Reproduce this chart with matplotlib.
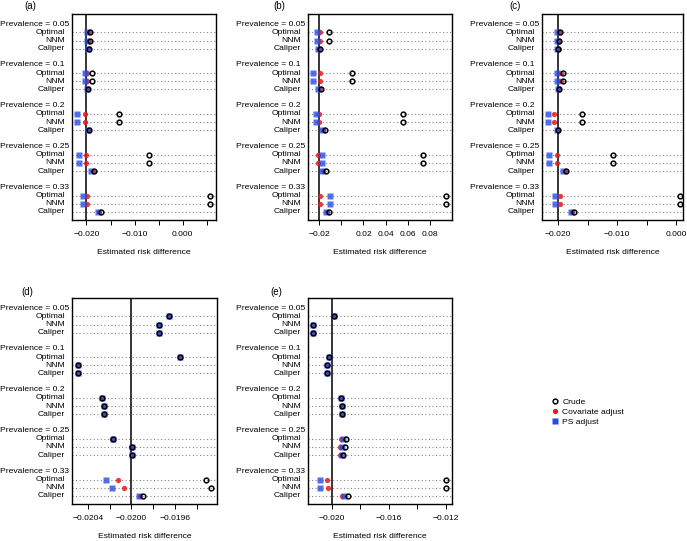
import matplotlib
matplotlib.use("Agg")
import matplotlib.pyplot as plt
from matplotlib import transforms
from matplotlib.lines import Line2D

plt.rcParams['font.family'] = ['Liberation Sans', 'DejaVu Sans']
plt.rcParams['font.size'] = 6.1

# rows: prevalence groups x matching methods
prevalences = ["0.05", "0.1", "0.2", "0.25", "0.33"]
methods = ["Optimal", "NNM", "Caliper"]

# panel (a)
crude_a = [-0.0193, -0.0193, -0.0195, -0.0188, -0.0188, -0.0197, -0.0132, -0.0132, -0.0195,
           -0.0070, -0.0070, -0.0184, 0.0057, 0.0057, -0.0170]
cov_a = [-0.0194, -0.0194, -0.0196, -0.0199, -0.0199, -0.0198, -0.0204, -0.0204, -0.0196,
         -0.0200, -0.0200, -0.0187, -0.0199, -0.0199, -0.0174]
ps_a = [-0.0199, -0.0199, -0.0196, -0.0203, -0.0203, -0.0198, -0.0219, -0.0219, -0.0197,
        -0.0216, -0.0216, -0.0190, -0.0208, -0.0208, -0.0177]

# panel (b)
crude_b = [-0.0116, -0.0116, -0.0194, 0.0100, 0.0100, -0.0185, 0.0560, 0.0560, -0.0152,
           0.0737, 0.0737, -0.0137, 0.0947, 0.0947, -0.0113]
cov_b = [-0.0194, -0.0194, -0.0200, -0.0197, -0.0197, -0.0195, -0.0200, -0.0200, -0.0170,
         -0.0212, -0.0212, -0.0165, -0.0197, -0.0197, -0.0128]
ps_b = [-0.0221, -0.0221, -0.0208, -0.0254, -0.0254, -0.0209, -0.0227, -0.0227, -0.0179,
        -0.0176, -0.0178, -0.0176, -0.0104, -0.0104, -0.0140]

# panel (c)
crude_c = [-0.0197, -0.0199, -0.0200, -0.0192, -0.0192, -0.0199, -0.0159, -0.0159, -0.0200,
           -0.0107, -0.0107, -0.0187, 0.0007, 0.0007, -0.0173]
cov_c = [-0.0197, -0.0199, -0.0199, -0.0196, -0.0196, -0.0199, -0.0207, -0.0207, -0.0200,
         -0.0202, -0.0202, -0.0189, -0.0197, -0.0197, -0.0176]
ps_c = [-0.0202, -0.0203, -0.0202, -0.0202, -0.0202, -0.0200, -0.0218, -0.0218, -0.0203,
        -0.0215, -0.0215, -0.0192, -0.0206, -0.0206, -0.0179]

# panel (d)
crude_d = [-0.019652, -0.019751, -0.019751, -0.019557, -0.020495, -0.020495, -0.020274, -0.020249,
           -0.020249, -0.020172, -0.019997, -0.019991, -0.019314, -0.019268, -0.019892]
cov_d = [-0.019652, -0.019751, -0.019751, -0.019557, -0.020495, -0.020495, -0.020274, -0.020249,
         -0.020249, -0.020175, -0.020000, -0.019995, -0.020123, -0.020065, -0.019920]
ps_d = [-0.019652, -0.019751, -0.019751, -0.019557, -0.020495, -0.020495, -0.020274, -0.020249,
        -0.020249, -0.020172, -0.019997, -0.019991, -0.020231, -0.020178, -0.019929]

# panel (e)
crude_e = [-0.01988, -0.02133, -0.02133, -0.02023, -0.02033, -0.02033, -0.01937, -0.01927,
           -0.01927, -0.01899, -0.01909, -0.01923, -0.01198, -0.01196, -0.01888]
cov_e = [-0.01988, -0.02133, -0.02133, -0.02023, -0.02033, -0.02033, -0.01937, -0.01927,
         -0.01927, -0.01937, -0.01946, -0.01944, -0.02033, -0.02028, -0.01930]
ps_e = [-0.01988, -0.02133, -0.02133, -0.02023, -0.02033, -0.02033, -0.01937, -0.01927,
        -0.01927, -0.01923, -0.01932, -0.01932, -0.02087, -0.02082, -0.01913]

true_rd = -0.020

# x axis setup per panel
xlim_a = (-0.0230, 0.0069)
ticks_a = [-0.020, -0.015, -0.010, -0.005, 0.000, 0.005]
labels_a = ["\u22120.020", "", "\u22120.010", "", "0.000", ""]
xlim_b = (-0.0302, 0.1001)
ticks_b = [-0.02, 0.00, 0.02, 0.04, 0.06, 0.08]
labels_b = ["\u22120.02", "", "0.02", "0.04", "0.06", "0.08"]
xlim_c = (-0.02276, 0.00113)
ticks_c = [-0.020, -0.015, -0.010, -0.005, 0.000]
labels_c = ["\u22120.020", "", "\u22120.010", "", "0.000"]
xlim_d = (-0.020548, -0.019212)
ticks_d = [-0.0204, -0.0202, -0.0200, -0.0198, -0.0196, -0.0194]
labels_d = ["\u22120.0204", "", "\u22120.0200", "", "\u22120.0196", ""]
xlim_e = (-0.021684, -0.011556)
ticks_e = [-0.020, -0.018, -0.016, -0.014, -0.012]
labels_e = ["\u22120.020", "", "\u22120.016", "", "\u22120.012"]

W, H = 687, 541
fig = plt.figure(figsize=(W / 100, H / 100), dpi=100)

RED = (0.9, 0.1, 0.1)
BLUE = (0.15, 0.3, 0.9)


def px_rect(x0, y0, x1, y1):
    return [x0 / W, 1 - y1 / H, (x1 - x0) / W, (y1 - y0) / H]


def dot_panel(rect, tag, tag_xy, crude, cov, ps, xlim, ticks, labels):
    ax = fig.add_axes(px_rect(*rect))
    # y positions like R dotchart with groups
    item_y, head_y = [], []
    for g in range(len(prevalences)):
        head_y.append(24 - 5 * g)
        for m in range(len(methods)):
            item_y.append(23 - 5 * g - m)
    for y in item_y:
        ax.axhline(y, color="#7f7f7f", lw=0.75, ls=(0, (1, 2.4)), zorder=1)
    ax.axvline(true_rd, color="black", lw=1.1, zorder=2)
    ax.plot(cov, item_y, ls="none", marker="o", ms=3.8, mec="none", mfc=RED, alpha=0.85, zorder=3)
    ax.plot(ps, item_y, ls="none", marker="s", ms=3.9, mec="none", mfc=BLUE, alpha=0.8, zorder=4)
    ax.plot(crude, item_y, ls="none", marker="o", ms=3.4, mec="black", mfc="none", mew=1.1, zorder=5)
    ax.set_xlim(*xlim)
    ax.set_ylim(0, 25.25)
    ax.set_yticks([])
    ax.set_xticks(ticks)
    ax.set_xticklabels(labels)
    ax.tick_params(axis="x", length=3.5, width=0.7, pad=4.5, labelsize=6.1)
    for s in ax.spines.values():
        s.set_linewidth(1.0)
    ax.set_xlabel("Estimated risk difference", labelpad=8, fontsize=6.1)

    left = rect[0]
    tr = transforms.blended_transform_factory(fig.transFigure, ax.transData)
    for g, p in enumerate(prevalences):
        ax.text((left - 72) / W, head_y[g], "Prevalence = " + p, transform=tr,
                ha="left", va="center", clip_on=False)
    for i, y in enumerate(item_y):
        ax.text((left - 7) / W, y, methods[i % 3], transform=tr,
                ha="right", va="center", clip_on=False)
    ax.text(tag_xy[0] / W, 1 - tag_xy[1] / H, tag, transform=fig.transFigure,
            ha="center", va="center", fontsize=7)
    return ax


dot_panel((72, 14, 216, 220), "(a)", (30, 6), crude_a, cov_a, ps_a, xlim_a, ticks_a, labels_a)
dot_panel((308, 14, 452, 220), "(b)", (279, 6), crude_b, cov_b, ps_b, xlim_b, ticks_b, labels_b)
dot_panel((542, 14, 683, 220), "(c)", (515, 6), crude_c, cov_c, ps_c, xlim_c, ticks_c, labels_c)
dot_panel((72, 298, 217, 504), "(d)", (27, 292), crude_d, cov_d, ps_d, xlim_d, ticks_d, labels_d)
dot_panel((308, 298, 452, 504), "(e)", (276, 292), crude_e, cov_e, ps_e, xlim_e, ticks_e, labels_e)

handles = [
    Line2D([], [], ls="none", marker="o", ms=3.4, mec="black", mfc="none", mew=1.1),
    Line2D([], [], ls="none", marker="o", ms=3.8, mec="none", mfc=RED),
    Line2D([], [], ls="none", marker="s", ms=3.9, mec="none", mfc=BLUE),
]
fig.legend(handles, ["Crude", "Covariate adjust", "PS adjust"], loc="upper left",
           bbox_to_anchor=(551 / W, 1 - 398 / H), frameon=False, handlelength=0.9,
           handletextpad=0.45, labelspacing=0.22, borderaxespad=0, borderpad=0, fontsize=6.1)

fig.savefig("out.png", dpi=100)
